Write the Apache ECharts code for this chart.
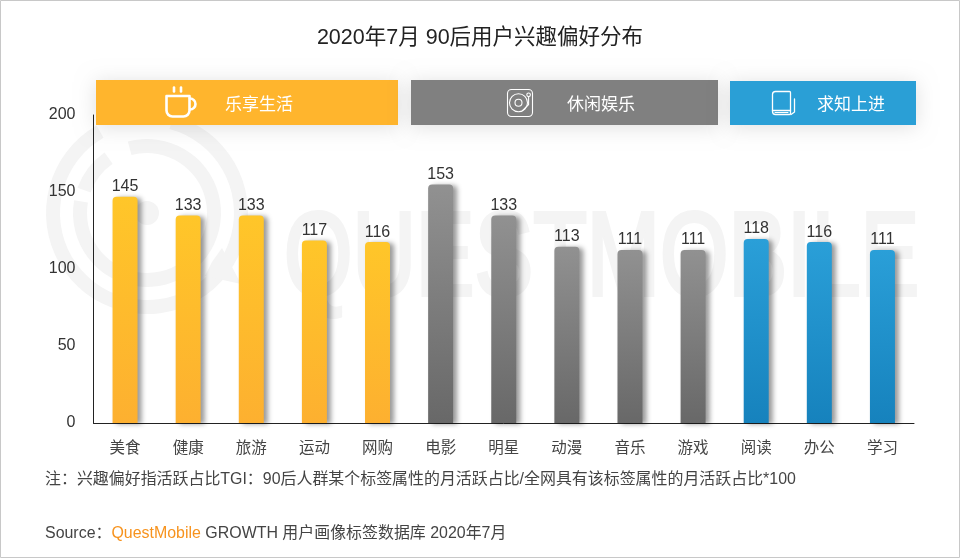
<!DOCTYPE html>
<html>
<head>
<meta charset="utf-8">
<style>html,body{margin:0;padding:0;background:#fff}#chart{width:960px;height:558px}</style>
<script src="https://cdn.jsdelivr.net/npm/echarts@6/dist/echarts.min.js"></script>
</head>
<body>
<div id="chart"></div>
<script>
const categories = ['美食', '健康', '旅游', '运动', '网购', '电影', '明星', '动漫', '音乐', '游戏', '阅读', '办公', '学习'];
const values = [145, 133, 133, 117, 116, 153, 133, 113, 111, 111, 118, 116, 111];
const groupOfBar = [0, 0, 0, 0, 0, 1, 1, 1, 1, 1, 2, 2, 2];
const groupNames = ['乐享生活', '休闲娱乐', '求知上进'];
const yTicks = [0, 50, 100, 150, 200];

const FONT = '"Liberation Sans", "Noto Sans CJK SC", sans-serif';
const WATERMARK = '#f4f4f4';

//每组柱子的渐变色 [上, 下]
const barColors = [
  ['#ffc629', '#fdb030'],
  ['#919191', '#686868'],
  ['#2a9fd8', '#1682bd'],
];
//顶部色块
const banners = [
  { x: 96, y: 80, width: 302, height: 45, color: '#ffb52d', textX: 259 },
  { x: 411, y: 80, width: 307, height: 45, color: '#808080', textX: 601 },
  { x: 730, y: 81, width: 186, height: 44, color: '#2a9fd6', textX: 851 },
];

function ring(r0, r, start, end) {
  return {
    type: 'sector',
    z: 0,
    shape: { cx: 147, cy: 213, r0: r0, r: r, startAngle: start * Math.PI / 180, endAngle: end * Math.PI / 180 },
    style: { fill: WATERMARK },
  };
}

const iconStroke = w => ({ fill: 'none', stroke: '#fff', lineWidth: w, lineCap: 'round', lineJoin: 'round' });
const iconRect = (x, y, width, height, r, w) => ({ type: 'rect', z: 6, shape: { x, y, width, height, r }, style: iconStroke(w) });
const iconLine = (points, w) => ({ type: 'polyline', z: 6, shape: { points }, style: iconStroke(w) });
const iconCircle = (cx, cy, r, w) => ({ type: 'circle', z: 6, shape: { cx, cy, r }, style: iconStroke(w) });

const graphics = [
  //外框
  {
    type: 'rect', z: 0,
    shape: { x: 0.5, y: 0.5, width: 959, height: 557 },
    style: { fill: '#fff', stroke: '#c8c8c8', lineWidth: 1 },
  },
  //水印
  ring(87, 101, -75, 240),
  ring(60, 74, -105, 190),
  ring(60, 74, 200, 235),
  { type: 'circle', z: 0, shape: { cx: 147, cy: 213, r: 12 }, style: { fill: WATERMARK } },
  {
    type: 'polygon', z: 0,
    shape: { points: [[222, 248], [241, 284], [205, 276], [212, 262]] },
    style: { fill: WATERMARK },
  },
  {
    type: 'text', z: 0,
    x: 284, y: 262, scaleX: 0.745,
    style: { text: 'QUESTMOBILE', font: '118px ' + FONT, fill: WATERMARK, stroke: WATERMARK, lineWidth: 4, verticalAlign: 'middle' },
  },
  {
    type: 'text', z: 6,
    x: 480, y: 38,
    style: { text: '2020年7月 90后用户兴趣偏好分布', font: '21.5px ' + FONT, fill: '#222', align: 'center', verticalAlign: 'middle' },
  },
  {
    type: 'text', z: 6,
    x: 45, y: 480,
    style: { text: '注：兴趣偏好指活跃占比TGI：90后人群某个标签属性的月活跃占比/全网具有该标签属性的月活跃占比*100', font: '15.95px ' + FONT, fill: '#444', verticalAlign: 'middle' },
  },
  {
    type: 'text', z: 6,
    x: 45, y: 534,
    style: {
      text: 'Source：{q|QuestMobile} GROWTH 用户画像标签数据库 2020年7月',
      font: '15.95px ' + FONT,
      fill: '#444',
      verticalAlign: 'middle',
      rich: { q: { font: '15.95px ' + FONT, fill: '#f7931e' } },
    },
  },
];

banners.forEach((b, i) => {
  graphics.push({
    type: 'rect', z: 5,
    shape: { x: b.x, y: b.y, width: b.width, height: b.height },
    style: { fill: b.color, shadowColor: 'rgba(0,0,0,0.12)', shadowBlur: 20, shadowOffsetY: 2 },
  });
  graphics.push({
    type: 'text', z: 6,
    x: b.textX, y: b.y + 25 - (i === 2 ? 1 : 0),
    style: { text: groupNames[i], font: '17px ' + FONT, fill: '#fff', align: 'center', verticalAlign: 'middle' },
  });
});

//杯子
graphics.push(iconRect(166.5, 96, 23, 20.5, [0, 0, 6, 6], 2.6));
graphics.push({
  type: 'arc', z: 6,
  shape: { cx: 190, cy: 104, r: 5.5, startAngle: -Math.PI / 2, endAngle: Math.PI / 2 },
  style: iconStroke(2.6),
});
graphics.push(iconLine([[174, 87.5], [174, 91.5]], 2.6));
graphics.push(iconLine([[181, 87.5], [181, 91.5]], 2.6));
//唱片
graphics.push(iconRect(507.5, 89.5, 25, 27, 4, 1.1));
graphics.push(iconCircle(518.5, 102.8, 9, 1.1));
graphics.push(iconCircle(518.5, 102.8, 3.5, 1.1));
graphics.push(iconCircle(528.6, 94.8, 1.8, 1.1));
graphics.push(iconLine([[528.6, 97], [528.6, 104.5], [522.5, 110.7]], 1.1));
//书
graphics.push(iconRect(772.5, 91.5, 18, 23, [3, 1, 1, 3], 1.3));
graphics.push(iconLine([[772.5, 110.5], [790.5, 110.5]], 1.3));
graphics.push(iconLine([[775, 112.5], [788, 112.5]], 1));
graphics.push(iconLine([[794.5, 99], [794.5, 112], [791, 114.5]], 1.3));

const barData = values.map((v, i) => {
  const c = barColors[groupOfBar[i]];
  return {
    value: v,
    itemStyle: {
      color: new echarts.graphic.LinearGradient(0, 0, 0, 1, [
        { offset: 0, color: c[0] },
        { offset: 1, color: c[1] },
      ]),
    },
  };
});

const chart = echarts.init(document.getElementById('chart'), null, { renderer: 'canvas' });
chart.setOption({
  animation: false,
  backgroundColor: '#fff',
  textStyle: { fontFamily: FONT },
  graphic: { elements: graphics },
  grid: { left: 93.5, top: 115, right: 46, bottom: 135 },
  xAxis: {
    type: 'category',
    data: categories,
    axisTick: { show: false },
    axisLine: { lineStyle: { color: '#222', width: 1 } },
    axisLabel: { fontSize: 15.5, color: '#444', margin: 18, fontFamily: FONT },
  },
  yAxis: [
    {
      type: 'value',
      min: 0,
      max: yTicks[yTicks.length - 1],
      interval: yTicks[1] - yTicks[0],
      splitLine: { show: false },
      axisTick: { show: false },
      axisLine: { show: true, lineStyle: { color: '#222', width: 1 } },
      axisLabel: { fontSize: 16, color: '#333', margin: 18, fontFamily: FONT },
    },
    //原图柱高比刻度略高，柱子走这根隐藏的轴
    { type: 'value', show: false, min: 0, max: 197.5, splitLine: { show: false } },
  ],
  series: [
    {
      type: 'bar',
      yAxisIndex: 1,
      data: barData,
      barWidth: 25,
      z: 3,
      itemStyle: {
        borderRadius: [4, 4, 0, 0],
        shadowColor: 'rgba(0,0,0,0.4)',
        shadowBlur: 5,
        shadowOffsetX: 4,
        shadowOffsetY: 1,
      },
      label: { show: true, position: 'top', distance: 2, fontSize: 16, color: '#333', fontFamily: FONT },
    },
  ],
});
</script>
</body>
</html>
